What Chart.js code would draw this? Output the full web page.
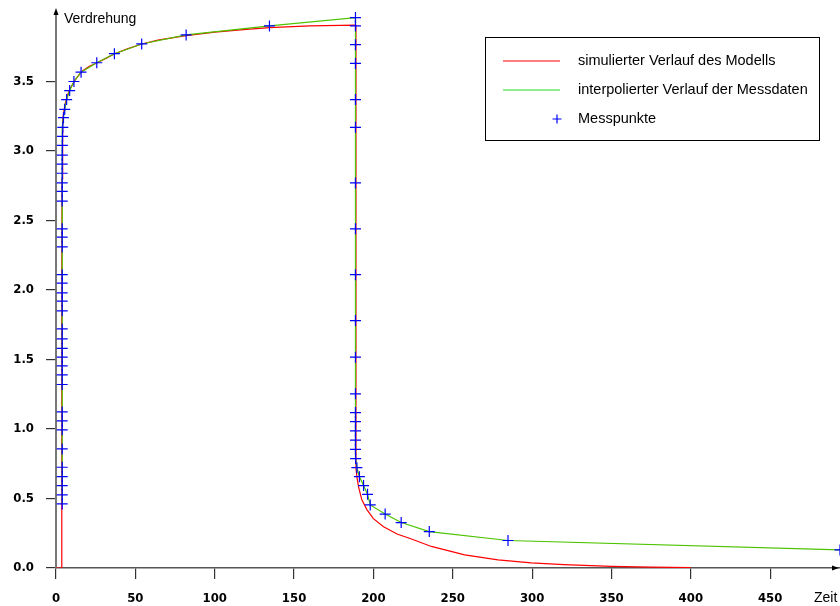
<!DOCTYPE html>
<html>
<head>
<meta charset="utf-8">
<script src="https://cdn.jsdelivr.net/npm/chart.js@4.4.1/dist/chart.umd.min.js"></script>
<style>
  body { margin: 0; background: #fff; }
  canvas { display: block; }
</style>
</head>
<body>
<canvas id="chart" width="840" height="606"></canvas>
<script>
// tick labels
const xTickValues = [0, 50, 100, 150, 200, 250, 300, 350, 400, 450];
const yTickValues = [0, 0.5, 1, 1.5, 2, 2.5, 3, 3.5];
const yTickLabels = ['0.0', '0.5', '1.0', '1.5', '2.0', '2.5', '3.0', '3.5'];

// simulierter Verlauf des Modells
const simT = [0, 3.6, 3.6, 3.7, 3.8, 4.0, 4.4, 5.0, 6.0, 7.5, 9.5, 12, 16, 21, 26, 32, 37, 45, 54, 65, 82, 100, 120, 134.5, 160, 188.9,
              189.0, 189.6, 190.6, 192.7, 195.9, 200, 206.4, 214.9, 224.4, 236.5, 257.5, 278.5, 299.5, 320, 350, 375, 400];
const simV = [0, 0, 0.5, 2.0, 2.8, 3.1, 3.22, 3.29, 3.35, 3.41, 3.46, 3.51, 3.57, 3.61, 3.635, 3.67, 3.70, 3.735, 3.77, 3.80, 3.83, 3.855, 3.875, 3.888, 3.90, 3.905,
              0.72, 0.657, 0.585, 0.49, 0.42, 0.355, 0.297, 0.245, 0.207, 0.155, 0.094, 0.058, 0.037, 0.024, 0.012, 0.006, 0.003];

// Messpunkte (also used for the interpolated line)
const measT = [3.9, 3.9, 3.9, 3.9, 3.9, 3.9, 3.9, 3.9, 3.9, 3.9, 3.9, 3.9, 3.9, 3.9, 3.9, 3.9, 3.9,
               3.9, 3.9, 3.9, 3.9, 3.9, 3.9, 3.9, 3.9, 3.9, 3.9, 3.9, 3.9, 3.95, 4.0, 4.1, 4.3,
               4.7, 5.5, 6.7, 8.6, 11.3, 15.8, 25.7, 36.8, 54, 82, 134.5,
               188.7, 188.7, 188.7, 188.7, 188.7, 188.7, 188.7, 188.7, 188.7, 188.7, 188.7, 188.7, 188.7, 188.7, 188.7, 188.7, 188.7, 188.8,
               189.6, 191.2, 193.8, 196.3, 198.0, 207.4, 217.5, 235.2, 284.8, 494];
const measV = [0.461, 0.526, 0.593, 0.657, 0.725, 0.857, 0.994, 1.058, 1.123, 1.32, 1.39, 1.454, 1.517, 1.58, 1.649, 1.72, 1.85,
               1.92, 1.98, 2.05, 2.11, 2.31, 2.38, 2.44, 2.64, 2.71, 2.77, 2.84, 2.906, 2.97, 3.04, 3.105, 3.17,
               3.24, 3.30, 3.37, 3.435, 3.50, 3.567, 3.635, 3.70, 3.77, 3.835, 3.90,
               3.96, 3.90, 3.765, 3.63, 3.37, 3.17, 2.77, 2.44, 2.11, 1.78, 1.517, 1.253, 1.118, 1.053, 0.986, 0.92, 0.854, 0.787,
               0.722, 0.657, 0.593, 0.53, 0.454, 0.388, 0.327, 0.262, 0.198, 0.13];

const pts = (t, v) => t.map((x, i) => ({ x: x, y: v[i] }));

const tickFont = { family: '"DejaVu Sans Condensed", "DejaVu Sans", sans-serif', size: 13, weight: 'bold' };

// keep the plot area fixed: no extra label padding around the axes
const noPad = s => { s.paddingTop = 0; s.paddingBottom = 0; s.paddingLeft = 0; s.paddingRight = 0; };

// axis arrows, axis titles and the boxed legend
const decor = {
  id: 'decor',
  afterDraw(chart) {
    const ctx = chart.ctx;
    const a = chart.chartArea;
    ctx.save();
    ctx.fillStyle = '#000';
    ctx.beginPath();
    ctx.moveTo(a.left, a.top - 4); ctx.lineTo(a.left - 2.5, a.top + 3); ctx.lineTo(a.left + 2.5, a.top + 3);
    ctx.fill();
    ctx.beginPath();
    ctx.moveTo(a.right - 1, a.bottom); ctx.lineTo(a.right - 8, a.bottom - 2.5); ctx.lineTo(a.right - 8, a.bottom + 2.5);
    ctx.fill();

    ctx.font = '14px "Liberation Sans", Arial, sans-serif';
    ctx.textBaseline = 'alphabetic';
    ctx.fillText('Verdrehung', 64, 23);
    ctx.fillText('Zeit', 814, 602);

    ctx.lineWidth = 1;
    ctx.strokeStyle = '#000';
    ctx.strokeRect(485.5, 37.5, 334, 103);

    ctx.lineWidth = 1.2;
    ctx.strokeStyle = '#ff0000';
    ctx.beginPath(); ctx.moveTo(503, 61); ctx.lineTo(560, 61); ctx.stroke();
    ctx.strokeStyle = '#22dd22';
    ctx.beginPath(); ctx.moveTo(503, 90); ctx.lineTo(560, 90); ctx.stroke();
    ctx.strokeStyle = '#0000ff';
    ctx.beginPath();
    ctx.moveTo(552.5, 119); ctx.lineTo(561.5, 119);
    ctx.moveTo(557, 114.5); ctx.lineTo(557, 123.5);
    ctx.stroke();

    ctx.font = '14.5px "Liberation Sans", Arial, sans-serif';
    ctx.textBaseline = 'middle';
    ctx.fillStyle = '#000';
    ctx.fillText('simulierter Verlauf des Modells', 578, 61);
    ctx.fillText('interpolierter Verlauf der Messdaten', 578, 90);
    ctx.fillText('Messpunkte', 578, 119);
    ctx.restore();
  }
};

new Chart(document.getElementById('chart'), {
  type: 'scatter',
  data: {
    datasets: [
      {
        label: 'Messpunkte',
        data: pts(measT, measV),
        showLine: false,
        pointStyle: 'cross',
        pointRadius: 5.5,
        pointBorderWidth: 1.2,
        borderColor: '#0000ff',
        backgroundColor: '#0000ff',
        order: 0
      },
      {
        label: 'interpolierter Verlauf der Messdaten',
        data: pts(measT, measV),
        showLine: true,
        pointRadius: 0,
        borderColor: '#4cc300',
        borderWidth: 1.2,
        tension: 0,
        order: 1
      },
      {
        label: 'simulierter Verlauf des Modells',
        data: pts(simT, simV),
        showLine: true,
        pointRadius: 0,
        borderColor: '#ff0000',
        borderWidth: 1.2,
        tension: 0,
        order: 2
      }
    ]
  },
  options: {
    responsive: false,
    animation: false,
    layout: { autoPadding: false, padding: { top: 12, right: 0, left: 0, bottom: 0 } },
    plugins: {
      legend: { display: false },
      tooltip: { enabled: false }
    },
    scales: {
      x: {
        type: 'linear',
        min: 0,
        max: 494,
        afterBuildTicks: s => { s.ticks = xTickValues.map(v => ({ value: v })); },
        afterFit: s => { s.height = 38; noPad(s); },
        grid: { drawOnChartArea: false, drawTicks: true, tickLength: 11, color: '#333', lineWidth: 1.2 },
        border: { display: true, color: '#555', width: 1.5 },
        ticks: { color: '#000', font: tickFont, padding: 12, maxRotation: 0 }
      },
      y: {
        type: 'linear',
        min: 0,
        max: 4,
        afterBuildTicks: s => { s.ticks = yTickValues.map(v => ({ value: v })); },
        afterFit: s => { s.width = 56; noPad(s); },
        grid: { drawOnChartArea: false, drawTicks: true, tickLength: 10, color: '#333', lineWidth: 1.2 },
        border: { display: true, color: '#777', width: 2 },
        ticks: { color: '#000', font: tickFont, padding: 12, callback: (v, i) => yTickLabels[i] }
      }
    }
  },
  plugins: [decor]
});
</script>
</body>
</html>
